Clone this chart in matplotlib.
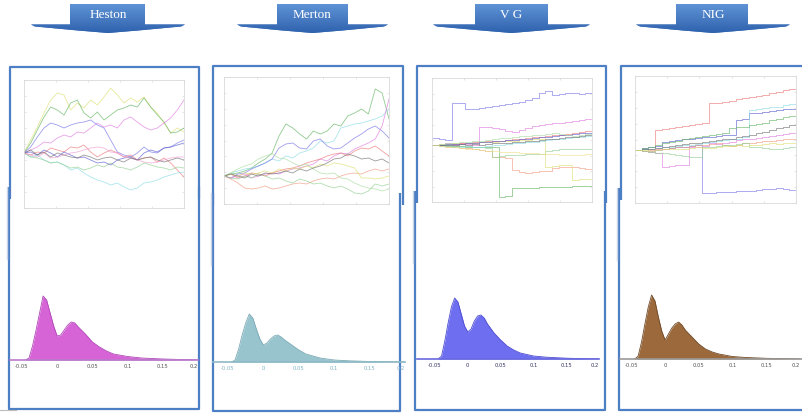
import numpy as np
import matplotlib
matplotlib.use("Agg")
import matplotlib.pyplot as plt
from matplotlib.patches import Polygon

W, H = 802, 413

# model names shown in the banners
models = ["Heston", "Merton", "V G", "NIG"]

# simulated price paths (25 time steps each), per model
steps = list(range(25))

heston_paths = {
    "y": [100, 113, 126, 140, 153, 160, 158, 143, 150, 145, 153, 148, 156, 165, 158, 150, 155, 151, 156, 146, 140, 130, 120, 125, 121],
    "g": [100, 110, 123, 136, 146, 143, 138, 150, 153, 140, 135, 141, 133, 138, 143, 145, 148, 146, 155, 146, 138, 131, 120, 121, 125],
    "m": [100, 103, 106, 111, 110, 115, 118, 116, 121, 120, 125, 130, 126, 128, 125, 133, 136, 131, 126, 123, 125, 130, 135, 143, 153],
    "b": [100, 106, 116, 125, 130, 128, 125, 128, 130, 131, 133, 128, 125, 113, 101, 98, 96, 100, 106, 101, 100, 105, 106, 110, 113],
    "r": [100, 98, 101, 100, 105, 103, 101, 106, 105, 108, 101, 96, 100, 103, 100, 96, 98, 93, 95, 96, 91, 95, 90, 83, 76],
    "c": [100, 96, 98, 93, 90, 91, 88, 83, 85, 80, 76, 73, 71, 68, 70, 66, 63, 65, 70, 71, 73, 76, 78, 80, 81],
    "g2": [100, 96, 95, 93, 90, 91, 88, 85, 86, 83, 85, 88, 86, 90, 86, 85, 83, 86, 90, 88, 86, 85, 83, 86, 85],
    "b2": [100, 101, 98, 103, 100, 96, 101, 98, 95, 96, 93, 90, 91, 88, 93, 95, 96, 93, 100, 103, 101, 105, 106, 108, 110],
    "m2": [100, 98, 96, 100, 95, 96, 98, 100, 101, 103, 105, 106, 105, 101, 100, 96, 95, 93, 91, 90, 91, 93, 95, 96, 96],
    "k": [100, 103, 98, 101, 96, 100, 98, 96, 95, 98, 96, 93, 95, 96, 93, 91, 95, 93, 95, 96, 93, 91, 93, 95, 93],
}

merton_paths = {
    "g": [100, 102, 103, 105, 108, 113, 117, 123, 140, 152, 148, 142, 137, 145, 142, 145, 152, 150, 160, 163, 167, 162, 187, 183, 157],
    "c": [100, 103, 105, 107, 108, 110, 113, 117, 115, 120, 118, 123, 125, 128, 135, 133, 135, 148, 150, 152, 153, 155, 157, 160, 167],
    "b": [100, 98, 102, 103, 107, 110, 113, 117, 128, 132, 133, 128, 127, 135, 137, 130, 127, 128, 133, 138, 142, 147, 150, 145, 138],
    "m": [100, 98, 100, 102, 98, 100, 102, 103, 102, 105, 107, 108, 110, 112, 117, 115, 120, 123, 122, 127, 130, 133, 137, 150, 177],
    "r": [100, 102, 98, 100, 103, 102, 100, 103, 105, 107, 108, 110, 113, 115, 117, 120, 122, 123, 120, 125, 128, 127, 130, 125, 120],
    "r2": [100, 97, 93, 88, 87, 88, 90, 87, 88, 90, 92, 93, 92, 95, 97, 98, 97, 100, 102, 103, 102, 105, 107, 105, 107],
    "y": [100, 102, 100, 103, 102, 103, 105, 103, 107, 105, 108, 107, 110, 108, 112, 110, 113, 112, 110, 108, 98, 98, 97, 98, 100],
    "g2": [100, 98, 97, 100, 98, 102, 100, 97, 98, 95, 93, 97, 95, 92, 93, 90, 88, 90, 87, 83, 82, 85, 92, 90, 92],
    "g3": [100, 103, 107, 110, 112, 117, 120, 122, 118, 117, 113, 110, 112, 107, 103, 102, 103, 98, 97, 93, 90, 88, 87, 85, 87],
    "k": [100, 102, 100, 98, 102, 100, 103, 102, 103, 105, 103, 107, 105, 108, 110, 113, 117, 118, 122, 120, 117, 118, 115, 117, 113],
}

vg_paths = {
    "b": [107, 106, 105, 142, 142, 136, 136, 137, 138, 139, 140, 141, 142, 143, 145, 147, 152, 154, 150, 151, 152, 152, 151, 152, 152],
    "m": [100, 101, 102, 100, 102, 101, 100, 118, 118, 117, 116, 114, 113, 115, 117, 119, 120, 121, 122, 122, 123, 124, 125, 126, 128],
    "r": [100, 100, 100, 101, 102, 102, 103, 103, 104, 104, 104, 105, 106, 106, 107, 108, 108, 109, 110, 110, 111, 112, 113, 114, 114],
    "g": [100, 100, 99, 99, 99, 98, 98, 98, 98, 98, 48, 49, 57, 57, 57, 57, 58, 58, 58, 58, 58, 59, 59, 59, 59],
    "r2": [100, 99, 98, 98, 97, 97, 96, 95, 94, 88, 88, 87, 75, 73, 72, 73, 74, 74, 77, 78, 78, 78, 77, 76, 75],
    "g2": [100, 100, 100, 99, 99, 99, 98, 98, 97, 88, 89, 90, 90, 90, 91, 91, 91, 94, 95, 96, 96, 96, 96, 96, 97],
    "y": [100, 101, 101, 102, 101, 102, 102, 103, 103, 103, 104, 104, 104, 105, 105, 106, 106, 78, 79, 80, 80, 65, 66, 66, 67],
    "b2": [100, 100, 101, 101, 101, 102, 102, 103, 103, 104, 104, 105, 105, 106, 106, 107, 108, 108, 109, 110, 110, 111, 112, 112, 113],
    "c": [100, 99, 100, 98, 98, 99, 98, 98, 99, 100, 100, 101, 102, 102, 103, 103, 104, 105, 106, 106, 107, 108, 108, 109, 110],
    "g3": [100, 101, 102, 102, 103, 103, 104, 104, 105, 106, 107, 107, 108, 109, 109, 110, 110, 111, 112, 111, 110, 109, 110, 111, 111],
    "k": [100, 100, 100, 100, 101, 100, 101, 100, 101, 102, 102, 102, 103, 103, 104, 104, 105, 106, 106, 107, 108, 108, 109, 110, 110],
    "y2": [100, 99, 98, 98, 97, 96, 96, 95, 94, 94, 93, 93, 93, 92, 92, 92, 91, 91, 91, 90, 90, 90, 90, 91, 91],
}

nig_paths = {
    "r": [100, 101, 101, 120, 121, 122, 123, 124, 125, 126, 127, 147, 147, 148, 149, 151, 152, 153, 154, 155, 157, 158, 160, 161, 162],
    "b": [100, 101, 99, 100, 101, 102, 103, 103, 104, 105, 57, 57, 58, 58, 58, 59, 59, 59, 60, 61, 61, 62, 61, 60, 60],
    "m": [100, 99, 98, 97, 83, 84, 85, 85, 103, 103, 104, 107, 106, 107, 108, 110, 111, 111, 112, 113, 114, 115, 116, 117, 117],
    "b2": [100, 102, 103, 104, 108, 109, 110, 111, 111, 112, 113, 113, 114, 115, 115, 130, 131, 137, 137, 138, 139, 140, 141, 141, 142],
    "c": [100, 101, 101, 102, 103, 103, 104, 105, 105, 106, 107, 108, 109, 110, 111, 111, 113, 140, 141, 142, 143, 143, 145, 146, 147],
    "g": [100, 102, 103, 105, 107, 108, 109, 111, 112, 113, 114, 115, 116, 117, 122, 123, 123, 125, 126, 127, 130, 131, 133, 134, 135],
    "k": [100, 101, 101, 102, 103, 104, 105, 106, 107, 107, 108, 109, 110, 111, 111, 113, 114, 115, 117, 118, 120, 122, 123, 125, 127],
    "r2": [100, 99, 100, 101, 101, 102, 103, 103, 104, 105, 105, 106, 107, 105, 104, 105, 107, 107, 108, 109, 109, 110, 111, 111, 112],
    "g2": [100, 99, 98, 97, 97, 96, 95, 94, 93, 93, 103, 103, 104, 105, 105, 106, 107, 103, 103, 102, 101, 101, 102, 103, 103],
    "y": [100, 100, 99, 100, 101, 101, 101, 101, 102, 103, 102, 102, 103, 104, 104, 105, 104, 105, 105, 106, 107, 106, 107, 107, 107],
}

# return densities on a common grid
ret_grid = [-0.045, -0.04, -0.035, -0.03, -0.025, -0.02, -0.015, -0.01, -0.005, 0.0, 0.005, 0.01, 0.015,
            0.02, 0.025, 0.03, 0.04, 0.05, 0.06, 0.07, 0.08, 0.1, 0.12, 0.15, 0.18, 0.2]
heston_dens = [0, 2, 14, 30, 47, 64, 60, 47, 34, 24, 25, 30, 35, 38, 37, 33, 26, 18, 13, 9, 6, 3.5, 2, 1, 0.4, 0.1]
merton_dens = [0, 2, 13, 27, 39, 48, 44, 33, 23, 17, 19, 23, 26, 27, 25, 22, 17, 12, 8, 6, 4, 2, 1.2, 0.5, 0.2, 0.05]
vg_dens = [0, 3, 18, 36, 52, 61, 57, 45, 33, 27, 30, 38, 43, 44, 41, 35, 26, 19, 13, 9, 6, 3, 1.8, 0.8, 0.3, 0.1]
nig_dens = [0, 3, 17, 35, 52, 64, 58, 42, 28, 19, 25, 31, 35, 37, 34, 29, 22, 15, 10, 7, 5, 2.5, 1.5, 0.7, 0.3, 0.1]

tick_vals = [-0.05, 0, 0.05, 0.1, 0.15, 0.2]
tick_text = ["-0.05", "0", "0.05", "0.1", "0.15", "0.2"]

line_colors = {"b": "#7474e6", "b2": "#5a5ad0", "g": "#62b462", "g2": "#8fce8f", "g3": "#a9dca0",
               "r": "#ec7676", "r2": "#f09a80", "c": "#8adce6", "m": "#e07ae0", "m2": "#f09ad0",
               "y": "#dede70", "y2": "#eee08a", "k": "#707070"}

frame_blue = "#4d7fc4"

fig = plt.figure(figsize=(W / 100, H / 100), dpi=100)
fig.patch.set_facecolor("white")


def px_axes(x0, y0, x1, y1, **kw):
    return fig.add_axes([x0 / W, 1 - y1 / H, (x1 - x0) / W, (y1 - y0) / H], **kw)


# overlay for frames and banners, in pixel coordinates
bg = px_axes(0, 0, W, H)
bg.axis("off")

# panel frames: upper part (path image) and lower part (density image)
frames = [
    # (upper left, upper right, top, split, lower left, lower right, bottom)
    (10, 199, 67, 199, 9, 199, 409),
    (213, 403, 66, 205, 213, 400, 411),
    (417, 606, 66, 203, 415, 605, 410),
    (621, 805, 66, 200, 619, 805, 410),
]
for ul, ur, top, split, ll, lr, bot in frames:
    bg.plot([ul, ul, ur, ur], [split, top, top, split], color=frame_blue, lw=1.6, solid_capstyle="butt")
    bg.plot([ll, ll, lr, lr], [split - 12, bot, bot, split - 12], color=frame_blue, lw=1.6, solid_capstyle="butt")
    bg.plot([ll - 2.5, ll - 2.5], [split - 12, split + 60], color="#c9d5e6", lw=1.0)
bg.plot([0, 16], [410, 410], color="#bbbbbb", lw=0.8)

# banner arrows with model names
banners = [(70, 145, 31, 185), (277, 348, 237, 388), (475, 548, 433, 590), (676, 748, 636, 790)]
grad = np.linspace(0, 1, 64).reshape(-1, 1)
banner_cmap = matplotlib.colors.LinearSegmentedColormap.from_list("bn", ["#5f93d6", "#2f62ad"])
for name, (rl, rr, wl, wr) in zip(models, banners):
    cx = (wl + wr) / 2
    verts = [(wl, 24.5), (rl, 24.5), (rl, 4), (rr, 4), (rr, 24.5), (wr, 24.5),
             (wr - 4, 26.5), (cx + 30, 30.5), (cx, 33), (cx - 30, 30.5), (wl + 4, 26.5)]
    poly = Polygon(verts, closed=True, facecolor="#3f73bd", edgecolor="none")
    bg.add_patch(poly)
    im = bg.imshow(grad, extent=(wl, wr, 33, 4), cmap=banner_cmap, aspect="auto", zorder=2)
    im.set_clip_path(poly)
    bg.text(cx, 15.5, name, ha="center", va="center", color="white", fontsize=9.5,
            family="Liberation Serif", zorder=3)
bg.set_xlim(0, W)
bg.set_ylim(H, 0)

# path panels
path_boxes = [((24, 80, 184, 208), heston_paths, (45, 173)),
              ((224, 77, 389, 204), merton_paths, (72, 199)),
              ((432, 78, 592, 202), vg_paths, (43, 167)),
              ((635, 76, 796, 203), nig_paths, (47, 174))]
for i, (box, paths, ylim) in enumerate(path_boxes):
    ax = px_axes(*box)
    style = "default" if i < 2 else "steps-post"
    for key, vals in paths.items():
        ax.plot(steps, vals, color=line_colors[key], lw=0.6, alpha=0.7, drawstyle=style)
    ax.set_xlim(0, 24)
    ax.set_ylim(*ylim)
    ax.set_xticks(np.linspace(0, 24, 6))
    ax.set_yticks(np.linspace(ylim[0], ylim[1], 9))
    ax.tick_params(direction="in", length=1.5, width=0.4, color="#cfcfcf",
                   labelbottom=False, labelleft=False, top=True, right=True)
    for s in ax.spines.values():
        s.set_color("#d9d9d9")
        s.set_linewidth(0.6)

# density panels
dens_panels = [
    ((10, 285, 198, 360), heston_dens, (-0.067, 0.2), "#d664d6", "#b048b8", "#b77ccc", "#555555"),
    ((213, 287, 405, 362), merton_dens, (-0.0712, 0.2), "#98c4ce", "#7aa8b4", "#8dbac6", "#7fb3c4"),
    ((417, 284, 599, 359), vg_dens, (-0.0774, 0.2), "#6e6ef0", "#4a4ad0", "#6a6ae0", "#333366"),
    ((620, 284, 802, 359), nig_dens, (-0.067, 0.2035), "#9b693c", "#6e4a2a", "#9a9a9a", "#555555"),
]
for box, dens, xlim, fc, ec, axc, tc in dens_panels:
    ax = px_axes(*box)
    ax.fill_between(ret_grid, dens, color=fc, lw=0)
    ax.plot(ret_grid, dens, color=ec, lw=0.6)
    ax.set_xlim(*xlim)
    ax.set_ylim(0, box[3] - box[1])
    ax.set_facecolor("none")
    for s in ["top", "left", "right"]:
        ax.spines[s].set_visible(False)
    ax.spines["bottom"].set_color(axc)
    ax.spines["bottom"].set_linewidth(1.2)
    ax.set_yticks([])
    ax.set_xticks(tick_vals)
    ax.set_xticklabels(tick_text)
    ax.tick_params(axis="x", length=0, pad=3, labelsize=3.8, labelcolor=tc)
    ax.get_xticklabels()[-1].set_horizontalalignment("right")

fig.savefig("out.png", dpi=100)
